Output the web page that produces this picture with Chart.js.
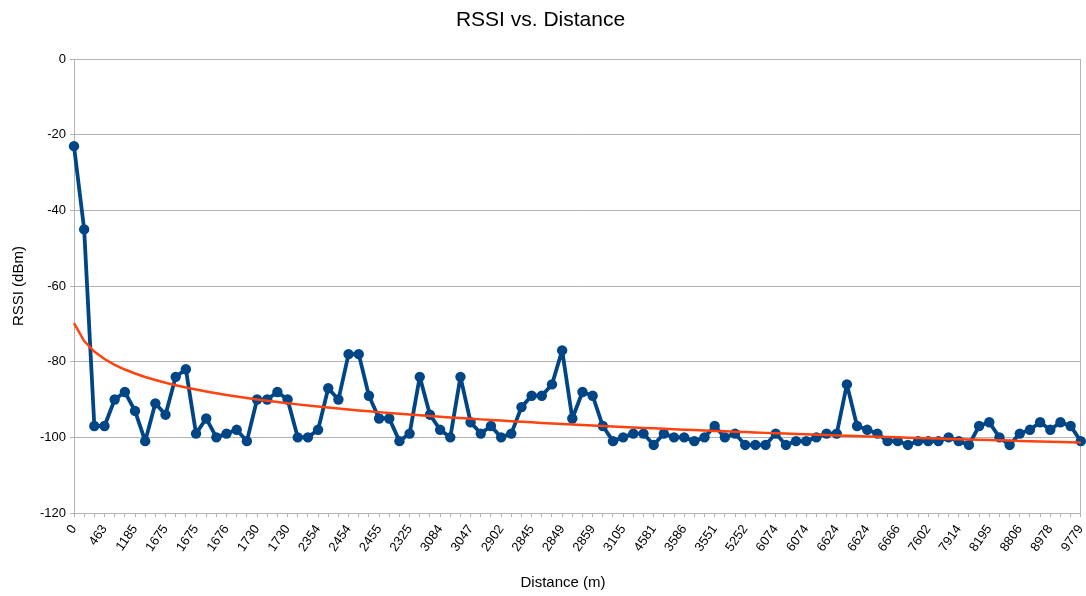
<!DOCTYPE html>
<html>
<head>
<meta charset="utf-8">
<title>RSSI vs. Distance</title>
<script src="https://cdn.jsdelivr.net/npm/chart.js@4/dist/chart.umd.min.js"></script>
<style>
  html, body { margin: 0; padding: 0; background: #ffffff; }
  #wrap { width: 1086px; height: 596px; }
</style>
</head>
<body>
<div id="wrap"><canvas id="chart" width="1086" height="596"></canvas></div>
<script>
// Measured signal strength (dBm), one value per sample
const rssi = [
  -23, -45, -97, -97, -90, -88, -93, -101, -91, -94,
  -84, -82, -99, -95, -100, -99, -98, -101, -90, -90,
  -88, -90, -100, -100, -98, -87, -90, -78, -78, -89,
  -95, -95, -101, -99, -84, -94, -98, -100, -84, -96,
  -99, -97, -100, -99, -92, -89, -89, -86, -77, -95,
  -88, -89, -97, -101, -100, -99, -99, -102, -99, -100,
  -100, -101, -100, -97, -100, -99, -102, -102, -102, -99,
  -102, -101, -101, -100, -99, -99, -86, -97, -98, -99,
  -101, -101, -102, -101, -101, -101, -100, -101, -102, -97,
  -96, -100, -102, -99, -98, -96, -98, -96, -97, -101
];

// Distance (m) shown under every third sample
const distanceTicks = [
  0, 463, 1185, 1675, 1675, 1676, 1730, 1730, 2354, 2454, 2455, 2325,
  3084, 3047, 2902, 2845, 2849, 2859, 3105, 4581, 3586, 3551, 5252,
  6074, 6074, 6624, 6624, 6666, 7602, 7914, 8195, 8806, 8978, 9779
];
const tickEvery = 3;

// Y axis range
const yMin = -120, yMax = 0, yStep = 20;

const labels = rssi.map((_, i) => i % tickEvery === 0 ? String(distanceTicks[i / tickEvery]) : '');

// Logarithmic trend line: y = a + b * ln(n), n = 1..N (least squares)
function logTrend(values) {
  const n = values.length;
  const xs = values.map((_, i) => Math.log(i + 1));
  const mx = xs.reduce((s, v) => s + v, 0) / n;
  const my = values.reduce((s, v) => s + v, 0) / n;
  let sxy = 0, sxx = 0;
  for (let i = 0; i < n; i++) {
    sxy += (xs[i] - mx) * (values[i] - my);
    sxx += (xs[i] - mx) * (xs[i] - mx);
  }
  const b = sxy / sxx;
  const a = my - b * mx;
  return xs.map(x => a + b * x);
}
const trend = logTrend(rssi);

const FONT = "'Liberation Sans', Arial, sans-serif";
const GRID = '#b3b3b3';

// Horizontal axis caption
const xCaption = {
  id: 'xCaption',
  afterDraw(chart) {
    const ctx = chart.ctx;
    ctx.save();
    ctx.font = "15px " + FONT;
    ctx.fillStyle = '#000';
    ctx.textAlign = 'center';
    ctx.textBaseline = 'middle';
    ctx.fillText('Distance (m)', 563, 583);
    ctx.restore();
  }
};

new Chart(document.getElementById('chart'), {
  type: 'line',
  data: {
    labels: labels,
    datasets: [
      {
        label: 'RSSI',
        data: rssi,
        borderColor: '#004586',
        backgroundColor: '#004586',
        borderWidth: 3.8,
        borderJoinStyle: 'round',
        borderCapStyle: 'round',
        pointRadius: 5.2,
        pointBorderWidth: 0,
        pointBackgroundColor: '#004586',
        tension: 0,
        clip: false,
        order: 2
      },
      {
        label: 'Trend',
        data: trend,
        borderColor: '#ff420e',
        borderWidth: 2.5,
        pointRadius: 0,
        tension: 0,
        clip: false,
        order: 1
      }
    ]
  },
  options: {
    responsive: false,
    animation: false,
    layout: { padding: { left: 0, right: 5, top: 0, bottom: 0 } },
    plugins: {
      legend: { display: false },
      tooltip: { enabled: false },
      title: {
        display: true,
        text: 'RSSI vs. Distance',
        color: '#000',
        font: { family: FONT, size: 21, weight: 'normal' },
        padding: { top: 8, bottom: 26 }
      }
    },
    scales: {
      x: {
        type: 'category',
        offset: false,
        grid: {
          display: true,
          drawOnChartArea: true,
          color: c => (c.index === rssi.length - 1 ? GRID : 'rgba(0,0,0,0)'),
          tickColor: GRID,
          tickLength: 4,
          lineWidth: 1
        },
        border: { display: true, color: GRID },
        ticks: {
          autoSkip: false,
          minRotation: 55,
          maxRotation: 55,
          padding: 5,
          color: '#000',
          font: { family: FONT, size: 13 }
        },
        afterFit(scale) {
          scale.height = 83;
          scale.paddingLeft = 0;
          scale.paddingRight = 0;
        }
      },
      y: {
        min: yMin,
        max: yMax,
        ticks: {
          stepSize: yStep,
          padding: 4,
          color: '#000',
          font: { family: FONT, size: 13 }
        },
        grid: { color: GRID, tickColor: GRID, tickLength: 4, lineWidth: 1 },
        border: { display: true, color: GRID },
        title: {
          display: true,
          text: 'RSSI (dBm)',
          color: '#000',
          font: { family: FONT, size: 15 },
          padding: { top: 10, bottom: 0 }
        },
        afterFit(scale) { scale.width = 74; }
      }
    }
  },
  plugins: [xCaption]
});
</script>
</body>
</html>
